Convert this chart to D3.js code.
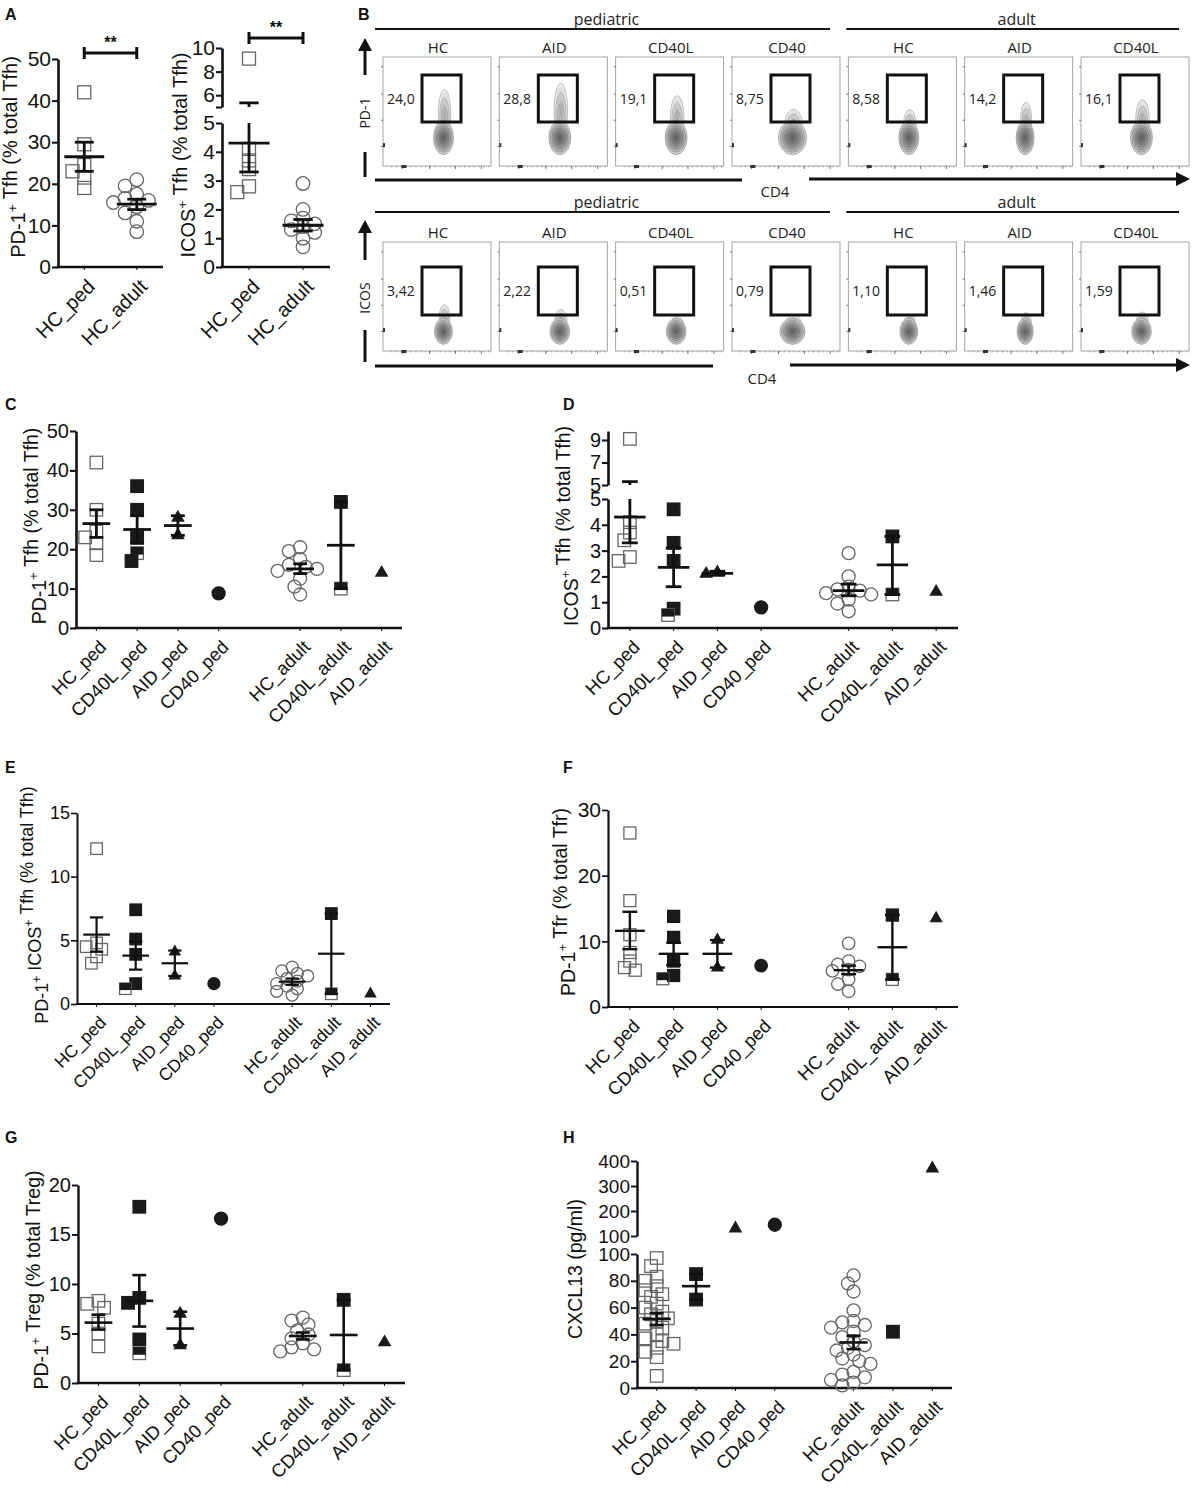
<!DOCTYPE html>
<html>
<head>
<meta charset="utf-8">
<script src="https://cdn.jsdelivr.net/npm/d3@7"></script>
<style>
body { margin: 0; background: #fff; }
text { font-family: "Liberation Sans", Arial, sans-serif; fill: #111; }
.flow text { font-family: "Open Sans", sans-serif; fill: #222; }
</style>
</head>
<body>
<script>
// ---- categories ----
var groups = ["HC_ped", "CD40L_ped", "AID_ped", "CD40_ped", "HC_adult", "CD40L_adult", "AID_adult"];
var groupSlot = [0, 1, 2, 3, 5, 6, 7];
var groupMarker = ["openSquare", "square", "triangle", "circle", "openCircle", "square", "triangle"];
var hcGroups = ["HC_ped", "HC_adult"];
var hcMarker = ["openSquare", "openCircle"];

// ---- A: HC ped vs adult ----
var aPd1Values = [[42, 29.5, 24.5, 23, 21.5, 19], [21, 19.5, 17.5, 16.5, 16, 15.5, 14.5, 13, 11, 8.5]];
var aPd1Stats = [[26.5, 23, 30], [15.1, 13.8, 16.3]];
var aIcosValues = [[9.1, 4.1, 3.7, 3.4, 2.8, 2.6], [2.9, 2.0, 1.7, 1.6, 1.5, 1.4, 1.3, 1.2, 1.0, 0.7]];
var aIcosStats = [[4.3, 3.3, 5.35], [1.45, 1.25, 1.65]];

// ---- C: PD-1+ Tfh ----
var pd1TfhValues = [[42, 30, 24.5, 23, 21.5, 18.5], [36, 30, 23, 17], [28, 23.5], [8.8],
    [20.5, 19.5, 17.5, 16, 15.5, 14.5, 12.5, 10.5, 8.5, 15], [32], [14]];
var pd1TfhHalf = [[], [19], [], [], [], [10], []];
var pd1TfhStats = [[26.5, 23, 30], [25, 21.5, 28.5], [26, 23.5, 28.5], null, [15, 13.8, 16.3], [21, 10, 32], null];

// ---- D: ICOS+ Tfh ----
var icosTfhValues = [[9.1, 4.1, 3.7, 3.4, 2.75, 2.6], [4.6, 3.3, 2.6, 0.75], [2.1, 2.15], [0.8],
    [2.9, 2.0, 1.6, 1.5, 1.45, 1.35, 1.3, 1.1, 0.95, 0.65], [3.55], [1.4]];
var icosTfhHalf = [[], [0.5], [], [], [], [1.3], []];
var icosTfhStats = [[4.3, 3.3, 5.3], [2.35, 1.6, 3.1], [2.12, 2.05, 2.2], null, [1.45, 1.25, 1.7], [2.45, 1.3, 3.55], null];

// ---- E: PD-1+ ICOS+ Tfh ----
var dpTfhValues = [[12.2, 4.8, 4.5, 4.3, 3.7, 3.2], [7.4, 5.1, 3.9, 1.6], [4.1, 2.2], [1.6],
    [2.9, 2.6, 2.4, 2.2, 2.0, 1.8, 1.6, 1.4, 1.2, 1.0, 0.7], [7.1], [0.8]];
var dpTfhHalf = [[], [1.2], [], [], [], [0.8], []];
var dpTfhStats = [[5.45, 4.1, 6.8], [3.8, 2.7, 4.9], [3.2, 2.2, 4.2], null, [1.75, 1.5, 2.0], [3.95, 0.8, 7.1], null];

// ---- F: PD-1+ Tfr ----
var pd1TfrValues = [[26.5, 16.2, 11, 8.3, 7, 6, 5.6], [13.8, 10.6, 7.0, 4.8], [10.2, 6.0], [6.3],
    [9.7, 7.0, 6.5, 6.2, 5.7, 5.5, 4.2, 3.5, 2.4], [14.0], [13.5]];
var pd1TfrHalf = [[], [4.3], [], [], [], [4.2], []];
var pd1TfrStats = [[11.6, 8.8, 14.5], [8.1, 6.4, 9.8], [8.1, 6.0, 10.2], null, [5.6, 5.0, 6.3], [9.1, 4.2, 14.0], null];

// ---- G: PD-1+ Treg ----
var pd1TregValues = [[8.3, 8.0, 7.6, 6.0, 5.0, 3.7], [17.8, 8.6, 8.1, 4.4], [7.0, 3.8], [16.6],
    [6.6, 6.3, 5.9, 5.3, 4.9, 4.5, 4.0, 3.6, 3.4, 3.2], [8.4], [4.1]];
var pd1TregHalf = [[], [3.0], [], [], [], [1.3], []];
var pd1TregStats = [[6.1, 5.4, 6.9], [8.3, 5.7, 10.9], [5.5, 3.8, 7.2], null, [4.75, 4.4, 5.1], [4.85, 1.3, 8.4], null];

// ---- H: CXCL13 ----
var cxcl13Values = [
    [97, 91, 83, 80, 76, 73, 70, 68, 63, 60, 57, 55, 52, 50, 48, 45, 40, 37, 35, 33, 30, 27, 23, 9],
    [85, 66], [130], [145],
    [84, 78, 72, 58, 50, 49, 47, 45, 42, 38, 35, 32, 30, 28, 25, 22, 20, 18, 12, 10, 8, 6, 4, 2],
    [42], [370]];
var cxcl13Stats = [[51.5, 47, 56], [76, 66, 85], null, null, [34, 29, 39], null, null];

// ---- B: flow plots ----
var flowCols = ["HC", "AID", "CD40L", "CD40", "HC", "AID", "CD40L"];
var flowCohorts = ["pediatric", "adult"];
var pd1Gate = ["24,0", "28,8", "19,1", "8,75", "8,58", "14,2", "16,1"];
var icosGate = ["3,42", "2,22", "0,51", "0,79", "1,10", "1,46", "1,59"];

var svg = d3.select("body").append("svg").attr("width", 1192).attr("height", 1490);

// panel letters
[["A", 5, 20], ["B", 358, 20], ["C", 5, 410], ["D", 563, 410], ["E", 5, 773], ["F", 563, 773], ["G", 5, 1143], ["H", 563, 1143]]
    .forEach(function (d) {
        svg.append("text").attr("x", d[1]).attr("y", d[2]).style("font-weight", "bold").style("font-size", "16px").text(d[0]);
    });

function drawMarker(g, type, x, y, s, half) {
    if (type === "openSquare" || type === "square") {
        var open = type === "openSquare" || half;
        g.append("rect").attr("x", x - s / 2).attr("y", y - s / 2).attr("width", s).attr("height", s)
            .attr("fill", open ? "none" : "#1a1a1a").attr("stroke", open ? "#666" : "#1a1a1a").attr("stroke-width", 1.3);
        if (half) {
            g.append("rect").attr("x", x - s / 2).attr("y", y - s / 2).attr("width", s).attr("height", s * 0.62)
                .attr("fill", "#1a1a1a");
        }
    } else if (type === "circle" || type === "openCircle") {
        var o = type === "openCircle";
        g.append("circle").attr("cx", x).attr("cy", y).attr("r", s * 0.52)
            .attr("fill", o ? "none" : "#1a1a1a").attr("stroke", o ? "#666" : "#1a1a1a").attr("stroke-width", 1.3);
    } else {
        g.append("path").attr("transform", "translate(" + x + "," + y + ")")
            .attr("d", d3.symbol().type(d3.symbolTriangle).size(s * s * 0.52)()).attr("fill", "#1a1a1a");
    }
}

function drawDot(cfg) {
    var g = svg.append("g");
    var segs = cfg.segs.map(function (sg) {
        return { sc: d3.scaleLinear().domain(sg.d).range(sg.r), d: sg.d, ticks: sg.ticks, hide: sg.hide || [] };
    });
    function yOf(v) {
        for (var i = 0; i < segs.length; i++) if (v <= segs[i].d[1]) return segs[i].sc(v);
        return segs[segs.length - 1].sc(v);
    }
    var axisY = segs[0].sc(0);
    var xb = d3.scaleBand().domain(d3.range(cfg.nSlots)).range(cfg.x);
    var step = xb.bandwidth();
    function cx(i) { return xb(cfg.slots[i]) + step / 2; }

    // y axis segments
    segs.forEach(function (sg) {
        var ax = g.append("g").attr("transform", "translate(" + cfg.x[0] + ",0)")
            .call(d3.axisLeft(sg.sc).tickValues(sg.ticks).tickSize(6).tickSizeOuter(0).tickPadding(1)
                .tickFormat(function (v) { return sg.hide.indexOf(v) >= 0 ? "" : d3.format("d")(v); }));
        ax.select(".domain").attr("stroke", "#111").attr("stroke-width", cfg.axisW);
        ax.selectAll(".tick line").attr("stroke", "#111").attr("stroke-width", cfg.axisW * 0.8);
        ax.selectAll(".tick text").style("font-size", cfg.tickFont + "px").attr("fill", "#111")
            .style("font-family", "'Liberation Sans', Arial, sans-serif");
    });
    // x axis
    g.append("line").attr("x1", cfg.x[0] - cfg.axisW / 2).attr("x2", cfg.x[1]).attr("y1", axisY).attr("y2", axisY)
        .attr("stroke", "#111").attr("stroke-width", cfg.axisW);
    cfg.groups.forEach(function (name, i) {
        g.append("line").attr("x1", cx(i)).attr("x2", cx(i)).attr("y1", axisY).attr("y2", axisY + 3)
            .attr("stroke", "#111").attr("stroke-width", 1);
        g.append("text").attr("transform", "translate(" + (cx(i) + 2) + "," + (axisY + 11) + ") rotate(-45)")
            .attr("text-anchor", "end").attr("dy", "0.7em").style("font-size", cfg.catFont + "px").text(name);
    });
    // y label
    var yl = g.append("text").attr("transform", "translate(" + cfg.ylabelPos[0] + "," + cfg.ylabelPos[1] + ") rotate(-90)")
        .attr("text-anchor", "middle").attr("y", cfg.labelFont * 0.36).style("font-size", cfg.labelFont + "px");
    cfg.ylabel.forEach(function (p) {
        if (p[1]) {
            yl.append("tspan").attr("dy", -cfg.labelFont * 0.42).style("font-size", (cfg.labelFont * 0.68) + "px").text(p[0]);
            yl.append("tspan").attr("dy", cfg.labelFont * 0.42).text("");
        } else {
            yl.append("tspan").text(p[0]);
        }
    });

    // points with a simple swarm
    var s = cfg.size;
    cfg.groups.forEach(function (name, i) {
        var items = cfg.values[i].map(function (v) { return { v: v, half: false }; });
        if (cfg.half) items = items.concat(cfg.half[i].map(function (v) { return { v: v, half: true }; }));
        items.sort(function (a, b) { return b.v - a.v; });
        var placed = [];
        items.forEach(function (it) {
            var y = yOf(it.v);
            for (var k = 0; k < 40; k++) {
                var off = (k === 0 ? 0 : (k % 2 ? -1 : 1) * Math.ceil(k / 2)) * s * 0.45;
                var x = cx(i) + off;
                var ok = placed.every(function (p) { return Math.hypot(p.x - x, p.y - y) >= s * 0.66; });
                if (ok) { placed.push({ x: x, y: y }); drawMarker(g, cfg.markers[i], x, y, s, it.half); break; }
            }
        });
    });

    // mean and SEM
    cfg.stats.forEach(function (st, i) {
        if (!st) return;
        var x = cx(i), mh = step * cfg.meanHalf, ch = step * cfg.capHalf;
        segs.forEach(function (sg) {
            var lo = Math.max(st[1], sg.d[0]), hi = Math.min(st[2], sg.d[1]);
            if (hi > lo) g.append("line").attr("x1", x).attr("x2", x).attr("y1", sg.sc(lo)).attr("y2", sg.sc(hi))
                .attr("stroke", "#111").attr("stroke-width", cfg.barW);
        });
        g.append("line").attr("x1", x - mh).attr("x2", x + mh).attr("y1", yOf(st[0])).attr("y2", yOf(st[0]))
            .attr("stroke", "#111").attr("stroke-width", cfg.barW);
        [st[1], st[2]].forEach(function (v) {
            g.append("line").attr("x1", x - ch).attr("x2", x + ch).attr("y1", yOf(v)).attr("y2", yOf(v))
                .attr("stroke", "#111").attr("stroke-width", cfg.barW);
        });
    });

    if (cfg.sig) {
        var a = cx(0), b = cx(1), y = cfg.sig;
        g.append("path").attr("d", "M" + a + "," + (y - 6) + "V" + (y + 6) + "M" + a + "," + y + "H" + b + "M" + b + "," + (y - 6) + "V" + (y + 6))
            .attr("fill", "none").attr("stroke", "#111").attr("stroke-width", 3);
        g.append("text").attr("x", (a + b) / 2).attr("y", y - 5).attr("text-anchor", "middle")
            .style("font-size", "16px").style("font-weight", "bold").text("**");
    }
}

var lblPd1Tfh = [["PD-1"], ["+", 1], [" Tfh (% total Tfh)"]];
var lblIcosTfh = [["ICOS"], ["+", 1], [" Tfh (% total Tfh)"]];

// A
drawDot({ groups: hcGroups, slots: [0, 1], nSlots: 2, markers: hcMarker, values: aPd1Values, stats: aPd1Stats,
    x: [58, 163], segs: [{ d: [0, 50], r: [267, 59], ticks: [0, 10, 20, 30, 40, 50] }],
    ylabel: lblPd1Tfh, ylabelPos: [18, 157], tickFont: 21, labelFont: 20, catFont: 20,
    meanHalf: 0.38, capHalf: 0.18, size: 13, axisW: 2.6, barW: 2.8, sig: 53 });
drawDot({ groups: hcGroups, slots: [0, 1], nSlots: 2, markers: hcMarker, values: aIcosValues, stats: aIcosStats,
    x: [222, 330], segs: [{ d: [0, 5], r: [267, 123], ticks: [0, 1, 2, 3, 4, 5] },
        { d: [5, 10], r: [107, 48], ticks: [5, 6, 8, 10], hide: [5] }],
    ylabel: lblIcosTfh, ylabelPos: [188, 155], tickFont: 21, labelFont: 20, catFont: 20,
    meanHalf: 0.38, capHalf: 0.18, size: 13, axisW: 2.6, barW: 2.8, sig: 38 });

// C
drawDot({ groups: groups, slots: groupSlot, nSlots: 8, markers: groupMarker, values: pd1TfhValues, half: pd1TfhHalf,
    stats: pd1TfhStats, x: [76, 402], segs: [{ d: [0, 50], r: [628, 431], ticks: [0, 10, 20, 30, 40, 50] }],
    ylabel: lblPd1Tfh, ylabelPos: [39, 526], tickFont: 20, labelFont: 19.5, catFont: 18.5,
    meanHalf: 0.34, capHalf: 0.17, size: 12.5, axisW: 2.6, barW: 2.8 });
// D
drawDot({ groups: groups, slots: groupSlot, nSlots: 8, markers: groupMarker, values: icosTfhValues, half: icosTfhHalf,
    stats: icosTfhStats, x: [608, 958], segs: [{ d: [0, 5], r: [628, 499], ticks: [0, 1, 2, 3, 4, 5] },
        { d: [5, 9.8], r: [485, 431], ticks: [5, 7, 9] }],
    ylabel: lblIcosTfh, ylabelPos: [571, 526], tickFont: 20, labelFont: 19.5, catFont: 18.5,
    meanHalf: 0.36, capHalf: 0.18, size: 12.5, axisW: 2.6, barW: 2.8 });
// E
drawDot({ groups: groups, slots: groupSlot, nSlots: 8, markers: groupMarker, values: dpTfhValues, half: dpTfhHalf,
    stats: dpTfhStats, x: [77, 390], segs: [{ d: [0, 15], r: [1004, 813], ticks: [0, 5, 10, 15] }],
    ylabel: [["PD-1"], ["+", 1], [" ICOS"], ["+", 1], [" Tfh (% total Tfh)"]], ylabelPos: [42, 905],
    tickFont: 18, labelFont: 18, catFont: 17.5, meanHalf: 0.34, capHalf: 0.17, size: 11.5, axisW: 2, barW: 2.2 });
// F
drawDot({ groups: groups, slots: groupSlot, nSlots: 8, markers: groupMarker, values: pd1TfrValues, half: pd1TfrHalf,
    stats: pd1TfrStats, x: [608, 958], segs: [{ d: [0, 30], r: [1007, 810], ticks: [0, 10, 20, 30] }],
    ylabel: [["PD-1"], ["+", 1], [" Tfr (% total Tfr)"]], ylabelPos: [568, 902],
    tickFont: 21, labelFont: 19.5, catFont: 18.5, meanHalf: 0.34, capHalf: 0.17, size: 12, axisW: 2.2, barW: 2.4 });
// G
drawDot({ groups: groups, slots: groupSlot, nSlots: 8, markers: groupMarker, values: pd1TregValues, half: pd1TregHalf,
    stats: pd1TregStats, x: [78, 405], segs: [{ d: [0, 20], r: [1383, 1185], ticks: [0, 5, 10, 15, 20] }],
    ylabel: [["PD-1"], ["+", 1], [" Treg (% total Treg)"]], ylabelPos: [41, 1280],
    tickFont: 20, labelFont: 19.5, catFont: 18.5, meanHalf: 0.34, capHalf: 0.17, size: 12.5, axisW: 2.4, barW: 2.6 });
// H
drawDot({ groups: groups, slots: groupSlot, nSlots: 8, markers: groupMarker, values: cxcl13Values, half: null,
    stats: cxcl13Stats, x: [637, 952], segs: [{ d: [0, 100], r: [1388, 1254], ticks: [0, 20, 40, 60, 80, 100] },
        { d: [100, 400], r: [1236, 1161], ticks: [100, 200, 300, 400] }],
    ylabel: [["CXCL13 (pg/ml)"]], ylabelPos: [575, 1269],
    tickFont: 19, labelFont: 19.5, catFont: 18.5, meanHalf: 0.36, capHalf: 0.18, size: 12.5, axisW: 2.4, barW: 2.6 });

// ---- B: flow cytometry contour panels ----
var flow = svg.append("g").attr("class", "flow");
var defs = svg.append("defs");
var grad = defs.append("radialGradient").attr("id", "blob");
grad.append("stop").attr("offset", "0%").attr("stop-color", "#5a5a5a");
grad.append("stop").attr("offset", "50%").attr("stop-color", "#8f8f8f");
grad.append("stop").attr("offset", "100%").attr("stop-color", "#dcdcdc");
var grad2 = defs.append("radialGradient").attr("id", "tail");
grad2.append("stop").attr("offset", "0%").attr("stop-color", "#a8a8a8");
grad2.append("stop").attr("offset", "100%").attr("stop-color", "#efefef");

var colX = d3.scaleLinear().domain([0, 6]).range([383, 1081]);
var plotW = 108, plotH = 109;
var blobRx = [10, 11, 11, 14, 10, 9, 11];
var rows = [
    { y: 57, gates: pd1Gate, gTop: 18, gBot: 65, blobY: 0.74, ry: 17, tailK: 1.3, marker: "PD-1",
      head: 25, line: 29, colY: 53, arrow: [75, 38], labY: 113, bar: [152, 177], cd4: 180 },
    { y: 242, gates: icosGate, gTop: 25, gBot: 73, blobY: 0.82, ry: 13, tailK: 4, marker: "ICOS",
      head: 208, line: 212, colY: 238, arrow: [260, 220], labY: 298, bar: [330, 362], cd4: 366 }
];

rows.forEach(function (row, ri) {
    // cohort headers
    [[flowCohorts[0], 0, 3], [flowCohorts[1], 4, 6]].forEach(function (c) {
        var xa = colX(c[1]) - (c[1] === 0 ? 8 : 2), xb = colX(c[2]) + plotW - 10;
        flow.append("line").attr("x1", xa).attr("x2", xb).attr("y1", row.line).attr("y2", row.line)
            .attr("stroke", "#111").attr("stroke-width", 2);
        flow.append("text").attr("x", (xa + xb) / 2 + 4).attr("y", row.head).attr("text-anchor", "middle")
            .style("font-size", "16px").text(c[0]);
    });
    // vertical marker arrow
    flow.append("line").attr("x1", 365).attr("x2", 365).attr("y1", row.arrow[0]).attr("y2", row.arrow[1] + 8)
        .attr("stroke", "#111").attr("stroke-width", 3);
    flow.append("path").attr("d", "M365," + row.arrow[1] + "l-7,13h14z").attr("fill", "#111");
    flow.append("text").attr("transform", "translate(370," + row.labY + ") rotate(-90)").attr("text-anchor", "middle")
        .style("font-size", "14px").text(row.marker);
    flow.append("line").attr("x1", 365).attr("x2", 365).attr("y1", row.bar[0]).attr("y2", row.bar[1])
        .attr("stroke", "#111").attr("stroke-width", 3);
    // CD4 arrow
    var left = ri === 0 ? 742 : 713, right0 = ri === 0 ? 809 : 790, cd4x = ri === 0 ? 775 : 762, cd4y = ri === 0 ? 197 : 384;
    flow.append("line").attr("x1", 375).attr("x2", left).attr("y1", row.cd4).attr("y2", row.cd4)
        .attr("stroke", "#111").attr("stroke-width", 3);
    flow.append("line").attr("x1", right0).attr("x2", 1180).attr("y1", row.cd4 - 1).attr("y2", row.cd4 - 1)
        .attr("stroke", "#111").attr("stroke-width", 3);
    flow.append("path").attr("d", "M1190," + (row.cd4 - 1) + "l-14,-7v14z").attr("fill", "#111");
    flow.append("text").attr("x", cd4x).attr("y", cd4y).attr("text-anchor", "middle").style("font-size", "15px").text("CD4");

    flowCols.forEach(function (col, i) {
        var x0 = colX(i), y0 = row.y;
        var p = flow.append("g").attr("transform", "translate(" + x0 + "," + y0 + ")");
        p.append("text").attr("x", plotW / 2 + 1).attr("y", row.colY - y0).attr("text-anchor", "middle")
            .style("font-size", "15px").text(col);
        p.append("rect").attr("width", plotW).attr("height", plotH).attr("fill", "#fff")
            .attr("stroke", "#9a9a9a").attr("stroke-width", 0.9);
        // axis ticks
        d3.range(0.08, 1, 0.045).forEach(function (t) {
            p.append("line").attr("x1", t * plotW).attr("x2", t * plotW).attr("y1", plotH).attr("y2", plotH + 1.5)
                .attr("stroke", "#777").attr("stroke-width", 0.6);
        });
        [0.09, 0.34, 0.58, 0.82].forEach(function (t) {
            p.append("line").attr("x1", -2).attr("x2", 0).attr("y1", t * plotH).attr("y2", t * plotH)
                .attr("stroke", "#555").attr("stroke-width", 0.8);
        });
        [0.18, 0.43, 0.67, 0.91].forEach(function (t) {
            p.append("line").attr("x1", t * plotW).attr("x2", t * plotW).attr("y1", plotH).attr("y2", plotH + 3)
                .attr("stroke", "#555").attr("stroke-width", 0.8);
        });
        p.append("rect").attr("x", 0).attr("y", plotH * 0.79).attr("width", 2).attr("height", 4).attr("fill", "#333");
        p.append("rect").attr("x", plotW * 0.17).attr("y", plotH - 1).attr("width", 5).attr("height", 3).attr("fill", "#333");

        var pct = +row.gates[i].replace(",", ".");
        var bx = plotW * 0.56, by = plotH * row.blobY, rx = blobRx[i] * (ri ? 0.9 : 1), ry = row.ry;
        var tl = Math.min(42, pct * row.tailK);
        // upward tail of marker-positive cells, joined to the main population
        if (tl > 2) {
            var tRy = tl / 2 + ry * 0.5, tcy = by - ry * 0.5 - tl / 2;
            p.append("ellipse").attr("cx", bx + 1).attr("cy", tcy).attr("rx", rx * 0.62).attr("ry", tRy)
                .attr("fill", "url(#tail)");
            d3.range(1, 5).forEach(function (k) {
                p.append("ellipse").attr("cx", bx + 1).attr("cy", tcy + (4 - k) * tRy * 0.12).attr("rx", rx * 0.62 * k / 4)
                    .attr("ry", tRy * k / 4).attr("fill", "none").attr("stroke", "#888").attr("stroke-width", 0.5);
            });
        }
        p.append("ellipse").attr("cx", bx).attr("cy", by).attr("rx", rx).attr("ry", ry).attr("fill", "url(#blob)");
        d3.range(1, 8).forEach(function (k) {
            p.append("ellipse").attr("cx", bx).attr("cy", by).attr("rx", rx * k / 7).attr("ry", ry * k / 7)
                .attr("fill", "none").attr("stroke", "#6a6a6a").attr("stroke-width", 0.5);
        });
        // gate
        p.append("rect").attr("x", 39).attr("y", row.gTop).attr("width", 39).attr("height", row.gBot - row.gTop)
            .attr("fill", "none").attr("stroke", "#111").attr("stroke-width", 3);
        p.append("text").attr("x", 4).attr("y", (row.gTop + row.gBot) / 2 + 5).style("font-size", "14px").text(row.gates[i]);
    });
});
</script>
</body>
</html>
